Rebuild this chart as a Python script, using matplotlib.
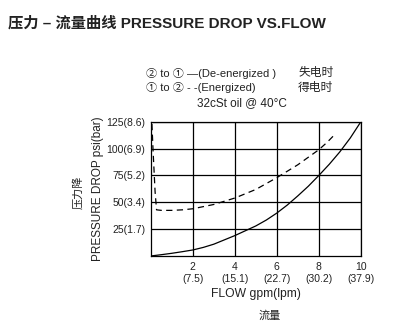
import matplotlib
matplotlib.use("Agg")
import matplotlib.pyplot as plt

plt.rcParams['font.family'] = ['Liberation Sans', 'Noto Sans CJK SC', 'DejaVu Sans']

# flow (gpm) vs pressure drop (psi)
flow_deenergized = [0, 0.5, 1, 1.5, 2, 2.5, 3, 3.5, 4, 4.5, 5, 5.5, 6, 6.5, 7, 7.5, 8, 8.5, 9, 9.5, 10]
psi_deenergized = [0, 1.2, 2.5, 4, 5.6, 8, 11, 15, 19, 23.5, 28, 33.5, 40, 47.5, 56, 65, 75, 85.5, 97, 110, 125]

flow_energized = [0.05, 0.1, 0.2, 0.27, 0.5, 1, 1.5, 2, 2.5, 3, 3.5, 4, 4.5, 5, 5.5, 6, 6.5, 7, 7.5, 8, 8.4, 8.8]
psi_energized = [123, 100, 60, 43, 42.5, 42.5, 43, 44, 46, 48, 51, 54, 58, 62, 67.5, 73, 79, 85, 92, 99, 106, 114]

x_ticks = [2, 4, 6, 8, 10]
x_labels = ["2\n(7.5)", "4\n(15.1)", "6\n(22.7)", "8\n(30.2)", "10\n(37.9)"]
y_ticks = [25, 50, 75, 100, 125]
y_labels = ["25(1.7)", "50(3.4)", "75(5.2)", "100(6.9)", "125(8.6)"]

fig = plt.figure(figsize=(4.10, 3.32), dpi=100)
ax = fig.add_axes([0.368, 0.229, 0.512, 0.404])

ax.plot(flow_deenergized, psi_deenergized, color="black", lw=0.9)
ax.plot(flow_energized, psi_energized, color="black", lw=0.9, dashes=(5, 3.5))

ax.set_xlim(0, 10)
ax.set_ylim(0, 125)
ax.set_xticks(x_ticks)
ax.set_xticklabels(x_labels, fontsize=7.5, color="#222222", linespacing=1.3)
ax.set_yticks(y_ticks)
ax.set_yticklabels(y_labels, fontsize=7.5, color="#222222")
ax.tick_params(length=0, pad=4)
ax.grid(True, color="black", lw=0.9)
for s in ax.spines.values():
    s.set_linewidth(0.9)

ax.set_xlabel("FLOW gpm(lpm)", fontsize=8.7, color="#222222", labelpad=3)
ax.set_ylabel("PRESSURE DROP psi(bar)", fontsize=8.5, color="#222222", labelpad=2)

fig.text(0.02, 0.93, "压力 – 流量曲线 PRESSURE DROP VS.FLOW", fontsize=11,
         fontweight="bold", color="#222222", va="center")

fig.text(0.355, 0.78, "② to ① —(De-energized )", fontsize=8, color="#222222", va="center")
fig.text(0.355, 0.735, "① to ② - -(Energized)", fontsize=8, color="#222222", va="center")
fig.text(0.727, 0.78, "失电时", fontsize=8.5, color="#222222", va="center")
fig.text(0.727, 0.735, "得电时", fontsize=8.5, color="#222222", va="center")
fig.text(0.48, 0.69, "32cSt oil @ 40°C", fontsize=8.5, color="#222222", va="center")

fig.text(0.19, 0.42, "压力降", fontsize=8, color="#222222", rotation=90,
         ha="center", va="center")
fig.text(0.658, 0.05, "流量", fontsize=8, color="#222222", ha="center", va="center")

fig.savefig("out.png", dpi=100)
